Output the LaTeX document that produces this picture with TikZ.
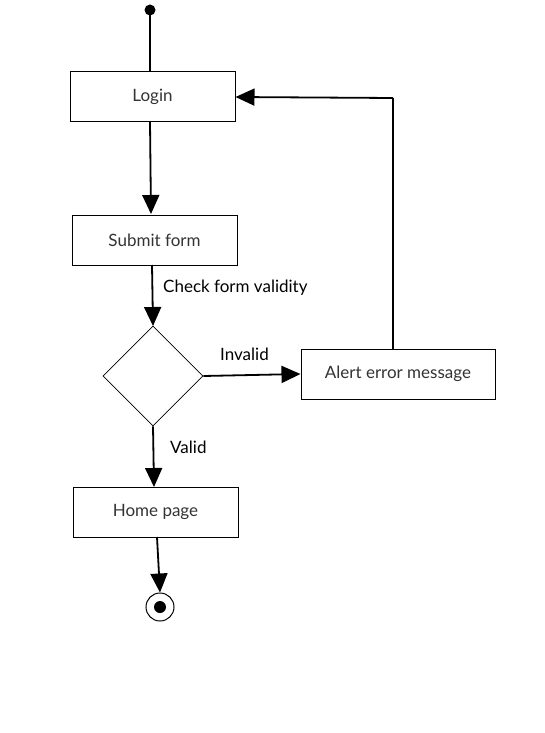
\documentclass[tikz,border=0pt]{standalone}
\usepackage{fontspec}
\setmainfont{Lato}
\usetikzlibrary{arrows.meta,shapes.geometric}
\definecolor{boxtext}{HTML}{333333}
\begin{document}
\begin{tikzpicture}[x=1pt,y=-1pt,
  box/.style={draw,line width=1pt,minimum width=165pt,minimum height=50pt,inner sep=0pt,text=boxtext,font=\fontsize{17}{20}\selectfont},
  lbl/.style={font=\fontsize{17}{20}\selectfont,inner sep=0pt},
  conn/.style={line width=1.8pt},
  arr/.style={conn,-{Triangle[length=19pt,width=17pt]}}]
\useasboundingbox (0,0) rectangle (545,733);
\fill (150,10) circle (5.5) coordinate (start);
\node[box] (login) at (152.5,97) {Login};
\node[box] (submit) at (154.5,240) {Submit form};
\node[draw,line width=0.8pt,diamond,minimum width=100pt,minimum height=100pt,inner sep=0pt] (dec) at (153,376) {};
\node[box,minimum width=194pt] (alert) at (398,374) {Alert error message};
\node[box] (home) at (155.5,512) {Home page};
\node[draw,line width=1pt,circle,minimum size=28pt,inner sep=0pt] (end) at (160,607) {};
\fill (end.center) circle (6);
\coordinate (corner) at (393,98);
\draw[conn] (start) -- (150,72);
\draw[arr] (150,122) -- (151,214);
\draw[arr] (152,265) -- (153,326);
\draw[arr] (dec.east) -- (alert.west);
\draw[arr] (dec.south) -- (154,487);
\draw[arr] (157,537) -- (end.north);
\draw[conn] (393,349) -- (corner);
\draw[arr] (corner) -- (login.east);
\node[lbl,anchor=west] (l1) at (163,288) {Check form validity};
\node[lbl,anchor=west] (l2) at (220,354) {Invalid};
\node[lbl,anchor=west] (l3) at (170,447) {Valid};
\end{tikzpicture}
\end{document}
